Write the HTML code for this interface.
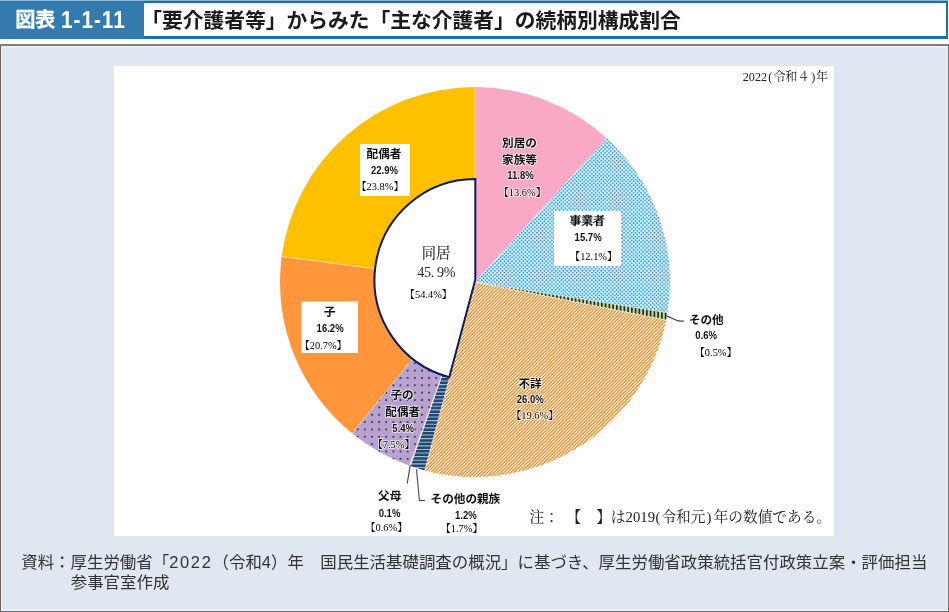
<!DOCTYPE html>
<html lang="ja">
<head>
<meta charset="utf-8">
<title>図表1-1-11 「要介護者等」からみた「主な介護者」の続柄別構成割合</title>
<style>
html,body{margin:0;padding:0;background:#fff;}
body{width:949px;height:612px;position:relative;overflow:hidden;font-family:"Liberation Sans","Noto Sans CJK JP",sans-serif;}
#hdr{position:absolute;left:0;top:0;width:949px;height:39px;background:#fff;}
#hdr .frame{position:absolute;left:0;top:0;width:945.8px;height:32.5px;border-style:solid;border-color:#1f6ea9;border-width:3.2px 2.6px 3.2px 0;box-shadow:inset 0 1px 0 -0px rgba(255,255,255,0);}
#hdr .topl{position:absolute;left:0;top:0;width:949px;height:1px;background:rgba(255,255,255,.45);}
#hdr .tag{position:absolute;left:0;top:0;width:144px;height:38.9px;background:#337aaf;color:#fff;font-weight:bold;font-size:19.6px;line-height:38px;white-space:nowrap;}
#hdr .tag .a{position:absolute;left:15.2px;top:0.8px;font-size:20.3px;letter-spacing:-.4px;-webkit-text-stroke:.3px #fff;}
#hdr .tag .b{position:absolute;left:61px;top:1.2px;font-size:23.6px;letter-spacing:1.1px;transform:scaleX(.88);transform-origin:0 50%;}
#hdr .ttl{position:absolute;left:141.2px;top:6.4px;height:30px;line-height:30px;font-size:20.75px;font-weight:bold;color:#1a1a1a;white-space:nowrap;}
#panel{position:absolute;left:0;top:44px;width:949px;height:568px;background:#dfe7f0;border-style:solid;border-color:#827c77 #716a65 #716a65 #6a635e;border-width:2px 1.3px 1.3px 1.1px;box-sizing:border-box;box-shadow:inset 0 0 0 1.6px #e8f1f9;}
#chartbg{position:absolute;left:114.3px;top:65.7px;width:720.2px;height:470.1px;background:#fff;}
svg{position:absolute;left:0;top:0;}
text{text-anchor:middle;fill:#111;}
.g{font-family:"Liberation Sans","Noto Sans CJK JP",sans-serif;font-weight:bold;font-size:11.6px;}
.gm{font-family:"Liberation Serif","Noto Serif CJK JP","Noto Serif CJK SC",serif;font-weight:700;font-size:11.8px;stroke:#111;stroke-width:.35px;}
.n{font-family:"Liberation Sans","Noto Sans CJK JP",sans-serif;font-weight:bold;font-size:10.6px;}
.m{font-family:"Liberation Serif","Noto Serif CJK JP","Noto Serif CJK SC",serif;font-size:10.4px;fill:#000;}
.halo{paint-order:stroke;stroke:#fff;stroke-width:1.7px;stroke-linejoin:round;stroke-opacity:.8;}
.c1{font-family:"Liberation Serif","Noto Serif CJK JP","Noto Serif CJK SC",serif;font-size:14.3px;fill:#2c2c2c;font-weight:500;}
.c2{font-family:"Liberation Serif","Noto Serif CJK JP","Noto Serif CJK SC",serif;font-size:14.2px;fill:#2c2c2c;letter-spacing:-.35px;}
.yr{font-family:"Liberation Serif","Noto Serif CJK JP","Noto Serif CJK SC",serif;font-size:12.2px;fill:#222;text-anchor:start;}
.note{font-family:"Liberation Serif","Noto Serif CJK JP","Noto Serif CJK SC",serif;font-size:14.7px;fill:#222;text-anchor:start;}
#src{position:absolute;left:21.2px;top:552.2px;font-size:16.45px;line-height:20.2px;color:#333;white-space:nowrap;}
#src .l2{padding-left:49.5px;}
#src .d{letter-spacing:1.7px;}
</style>
</head>
<body>
<div id="hdr"><div class="frame"></div><div class="tag"><span class="a">図表</span><span class="b">1-1-11</span></div><div class="topl"></div><div class="ttl">「要介護者等」からみた「主な介護者」の続柄別構成割合</div></div>
<div id="panel"></div>
<div id="chartbg"></div>
<svg width="949" height="612" viewBox="0 0 949 612">
<defs>
<pattern id="pBlue" width="19" height="19" patternUnits="userSpaceOnUse"><rect width="19" height="19" fill="#a6e6fc"/><path d="M0.30,0.30h1.3v1.3h-1.3zM0.30,4.10h1.3v1.3h-1.3zM0.30,7.90h1.3v1.3h-1.3zM0.30,11.70h1.3v1.3h-1.3zM0.30,15.50h1.3v1.3h-1.3zM2.20,2.20h1.3v1.3h-1.3zM2.20,6.00h1.3v1.3h-1.3zM2.20,9.80h1.3v1.3h-1.3zM2.20,13.60h1.3v1.3h-1.3zM2.20,17.40h1.3v1.3h-1.3zM4.10,0.30h1.3v1.3h-1.3zM4.10,4.10h1.3v1.3h-1.3zM4.10,7.90h1.3v1.3h-1.3zM4.10,11.70h1.3v1.3h-1.3zM4.10,15.50h1.3v1.3h-1.3zM6.00,2.20h1.3v1.3h-1.3zM6.00,6.00h1.3v1.3h-1.3zM6.00,9.80h1.3v1.3h-1.3zM6.00,13.60h1.3v1.3h-1.3zM6.00,17.40h1.3v1.3h-1.3zM7.90,0.30h1.3v1.3h-1.3zM7.90,4.10h1.3v1.3h-1.3zM7.90,7.90h1.3v1.3h-1.3zM7.90,11.70h1.3v1.3h-1.3zM7.90,15.50h1.3v1.3h-1.3zM9.80,2.20h1.3v1.3h-1.3zM9.80,6.00h1.3v1.3h-1.3zM9.80,9.80h1.3v1.3h-1.3zM9.80,13.60h1.3v1.3h-1.3zM9.80,17.40h1.3v1.3h-1.3zM11.70,0.30h1.3v1.3h-1.3zM11.70,4.10h1.3v1.3h-1.3zM11.70,7.90h1.3v1.3h-1.3zM11.70,11.70h1.3v1.3h-1.3zM11.70,15.50h1.3v1.3h-1.3zM13.60,2.20h1.3v1.3h-1.3zM13.60,6.00h1.3v1.3h-1.3zM13.60,9.80h1.3v1.3h-1.3zM13.60,13.60h1.3v1.3h-1.3zM13.60,17.40h1.3v1.3h-1.3zM15.50,0.30h1.3v1.3h-1.3zM15.50,4.10h1.3v1.3h-1.3zM15.50,7.90h1.3v1.3h-1.3zM15.50,11.70h1.3v1.3h-1.3zM15.50,15.50h1.3v1.3h-1.3zM17.40,2.20h1.3v1.3h-1.3zM17.40,6.00h1.3v1.3h-1.3zM17.40,9.80h1.3v1.3h-1.3zM17.40,13.60h1.3v1.3h-1.3zM17.40,17.40h1.3v1.3h-1.3z" fill="#4382de"/><path d="M0.38,2.27h1.15v1.15h-1.15zM0.38,6.07h1.15v1.15h-1.15zM0.38,9.88h1.15v1.15h-1.15zM0.38,13.67h1.15v1.15h-1.15zM0.38,17.47h1.15v1.15h-1.15zM2.27,0.38h1.15v1.15h-1.15zM2.27,4.17h1.15v1.15h-1.15zM2.27,7.97h1.15v1.15h-1.15zM2.27,11.77h1.15v1.15h-1.15zM2.27,15.57h1.15v1.15h-1.15zM4.17,2.27h1.15v1.15h-1.15zM4.17,6.07h1.15v1.15h-1.15zM4.17,9.88h1.15v1.15h-1.15zM4.17,13.67h1.15v1.15h-1.15zM4.17,17.47h1.15v1.15h-1.15zM6.07,0.38h1.15v1.15h-1.15zM6.07,4.17h1.15v1.15h-1.15zM6.07,7.97h1.15v1.15h-1.15zM6.07,11.77h1.15v1.15h-1.15zM6.07,15.57h1.15v1.15h-1.15zM7.97,2.27h1.15v1.15h-1.15zM7.97,6.07h1.15v1.15h-1.15zM7.97,9.88h1.15v1.15h-1.15zM7.97,13.67h1.15v1.15h-1.15zM7.97,17.47h1.15v1.15h-1.15zM9.88,0.38h1.15v1.15h-1.15zM9.88,4.17h1.15v1.15h-1.15zM9.88,7.97h1.15v1.15h-1.15zM9.88,11.77h1.15v1.15h-1.15zM9.88,15.57h1.15v1.15h-1.15zM11.77,2.27h1.15v1.15h-1.15zM11.77,6.07h1.15v1.15h-1.15zM11.77,9.88h1.15v1.15h-1.15zM11.77,13.67h1.15v1.15h-1.15zM11.77,17.47h1.15v1.15h-1.15zM13.67,0.38h1.15v1.15h-1.15zM13.67,4.17h1.15v1.15h-1.15zM13.67,7.97h1.15v1.15h-1.15zM13.67,11.77h1.15v1.15h-1.15zM13.67,15.57h1.15v1.15h-1.15zM15.57,2.27h1.15v1.15h-1.15zM15.57,6.07h1.15v1.15h-1.15zM15.57,9.88h1.15v1.15h-1.15zM15.57,13.67h1.15v1.15h-1.15zM15.57,17.47h1.15v1.15h-1.15zM17.47,0.38h1.15v1.15h-1.15zM17.47,4.17h1.15v1.15h-1.15zM17.47,7.97h1.15v1.15h-1.15zM17.47,11.77h1.15v1.15h-1.15zM17.47,15.57h1.15v1.15h-1.15z" fill="#fff"/></pattern>
<pattern id="pOrange" width="10" height="10" patternUnits="userSpaceOnUse"><rect width="10" height="10" fill="#fff"/><path d="M1.000,-1L-1,1.000M4.333,-1L-1,4.333M7.667,-1L-1,7.667M11.000,-1L-1,11.000M14.333,-1L-1,14.333M17.667,-1L-1,17.667M21.000,-1L-1,21.000" stroke="#ff7d0a" stroke-width="1.2" fill="none"/></pattern>
<pattern id="pGreen" width="15" height="8" x="1" patternUnits="userSpaceOnUse"><rect width="15" height="8" fill="#bbdc92"/><path d="M0,0h1.7v8h-1.7zM3.75,0h1.7v8h-1.7zM7.5,0h1.7v8h-1.7zM11.25,0h1.7v8h-1.7z" fill="#2b2a26"/></pattern>
<pattern id="pStripe" width="8" height="18" patternUnits="userSpaceOnUse"><rect width="8" height="18" fill="#84c2f0"/><path d="M0,0h8v2.5h-8zM0,3.6h8v2.5h-8zM0,7.2h8v2.5h-8zM0,10.8h8v2.5h-8zM0,14.4h8v2.5h-8z" fill="#2c4464"/></pattern>
<pattern id="pDots" width="7.15" height="7.35" x="418.35" y="366.95" patternUnits="userSpaceOnUse"><rect width="7.15" height="7.35" fill="#b8a2d0"/><rect x="2.75" y="2.75" width="1.8" height="1.8" fill="#43364f"/></pattern>
</defs>
<path d="M475.00,282.00 L475.00,87.00 A195.0,195.0 0 0 1 606.80,138.28 Z" fill="#f9a9c5"/>
<path d="M475.00,282.00 L606.80,138.28 A195.0,195.0 0 0 1 667.55,312.84 Z" fill="url(#pBlue)"/>
<path d="M475.00,282.00 L667.55,312.84 A195.0,195.0 0 0 1 666.25,320.08 Z" fill="url(#pGreen)"/>
<path d="M475.00,282.00 L666.25,320.08 A195.0,195.0 0 0 1 424.68,470.40 Z" fill="url(#pOrange)"/>
<path d="M475.00,282.00 L424.68,470.40 A195.0,195.0 0 0 1 410.62,466.06 Z" fill="url(#pStripe)"/>
<path d="M475.00,282.00 L410.62,466.06 A195.0,195.0 0 0 1 409.46,465.66 Z" fill="#e8e4d8"/>
<path d="M475.00,282.00 L409.46,465.66 A195.0,195.0 0 0 1 352.02,433.33 Z" fill="url(#pDots)"/>
<path d="M475.00,282.00 L352.02,433.33 A195.0,195.0 0 0 1 281.66,256.62 Z" fill="#ff963c"/>
<path d="M475.00,282.00 L281.66,256.62 A195.0,195.0 0 0 1 475.00,87.00 Z" fill="#ffc000"/>
<path d="M475.00,282.00L475.00,87.00M475.00,282.00L606.80,138.28M475.00,282.00L667.55,312.84M475.00,282.00L666.25,320.08M475.00,282.00L424.68,470.40M475.00,282.00L409.46,465.66M475.00,282.00L352.02,433.33M475.00,282.00L281.66,256.62" stroke="#fff" stroke-opacity=".55" stroke-width=".8" fill="none"/>
<path d="M475.30,279.80 L449.29,377.19 A100.8,100.8 0 0 1 475.30,179.00 Z" fill="#fff" stroke="#0b1c5c" stroke-width="2" stroke-linejoin="miter"/>
<path d="M666.8,316 L678.2,320.9 L684,321.2" fill="none" stroke="#333" stroke-width="1.1"/>
<path d="M410.3,465.1 L407.2,483.7" fill="none" stroke="#444" stroke-width="1.1"/>
<path d="M416.5,469.3 L419.4,500.5 L424.9,500.5" fill="none" stroke="#444" stroke-width="1.1"/>
<rect x="360" y="144" width="50" height="52" fill="#fff"/>
<text x="384" y="157.8" class="g">配偶者</text>
<text transform="translate(384.5,174.2) scale(.9,1)" class="n">22.9%</text>
<text x="380" y="190.3" class="m">【23.8%】</text>
<text x="519.5" y="147.4" class="g halo">別居の</text>
<text x="519.5" y="164.4" class="g halo">家族等</text>
<text transform="translate(520.5,179.1) scale(.9,1)" class="n halo">11.8%</text>
<text x="522.3" y="195.6" class="m halo">【13.6%】</text>
<rect x="554" y="211" width="67" height="55" fill="#fff"/>
<text x="587.2" y="225.2" class="gm">事業者</text>
<text transform="translate(588.1,240.8) scale(.9,1)" class="n">15.7%</text>
<text x="593.6" y="260.0" class="m">【12.1%】</text>
<text x="706.3" y="324.0" class="g">その他</text>
<text transform="translate(706.2,339.4) scale(.9,1)" class="n">0.6%</text>
<text x="715.7" y="355.8" class="m">【0.5%】</text>
<text x="530" y="387.8" class="g halo">不詳</text>
<text transform="translate(530.2,402.9) scale(.9,1)" class="n halo">26.0%</text>
<text x="534.8" y="419.1" class="m halo">【19.6%】</text>
<rect x="301.5" y="301.5" width="56.5" height="51.5" fill="#fff"/>
<text x="329.7" y="315.8" class="g">子</text>
<text transform="translate(330.1,332.0) scale(.9,1)" class="n">16.2%</text>
<text x="323.2" y="349.1" class="m">【20.7%】</text>
<text x="402" y="399.0" class="g halo">子の</text>
<text x="402.7" y="415.6" class="g halo">配偶者</text>
<text transform="translate(403.2,431.6) scale(.9,1)" class="n halo">5.4%</text>
<text x="393.6" y="447.6" class="m halo">【7.5%】</text>
<text x="389.7" y="500.4" class="g">父母</text>
<text transform="translate(389.5,516.5) scale(.9,1)" class="n">0.1%</text>
<text x="386.4" y="531.3" class="m">【0.6%】</text>
<text x="465.4" y="502.9" class="g">その他の親族</text>
<text transform="translate(465.8,518.7) scale(.9,1)" class="n">1.2%</text>
<text x="461.6" y="532.2" class="m">【1.7%】</text>

<text x="436" y="258.2" class="c1">同居</text>
<text x="436.2" y="277.1" class="c2">45. 9%</text>
<text x="428.4" y="297.6" class="m">【54.4%】</text>
<text y="81.1" class="yr"><tspan x="742.7">2022</tspan><tspan x="768.2">(</tspan><tspan x="773.2">令和４</tspan><tspan x="811.2">)</tspan><tspan x="815.9">年</tspan></text>
<text y="521.6" class="note"><tspan x="529.6">注：</tspan><tspan x="566.4">【</tspan><tspan x="596.2">】</tspan><tspan x="610.8">は</tspan><tspan x="625.6">2019</tspan><tspan x="655.6">(</tspan><tspan x="661.4">令和元</tspan><tspan x="706.4">)</tspan><tspan x="713.6">年の数値である。</tspan></text>
</svg>
<div id="src">資料：厚生労働省「<span class="d">2022</span>（令和4）年　国民生活基礎調査の概況」に基づき、厚生労働省政策統括官付政策立案・評価担当<br><span class="l2"></span>参事官室作成</div>
</body>
</html>
